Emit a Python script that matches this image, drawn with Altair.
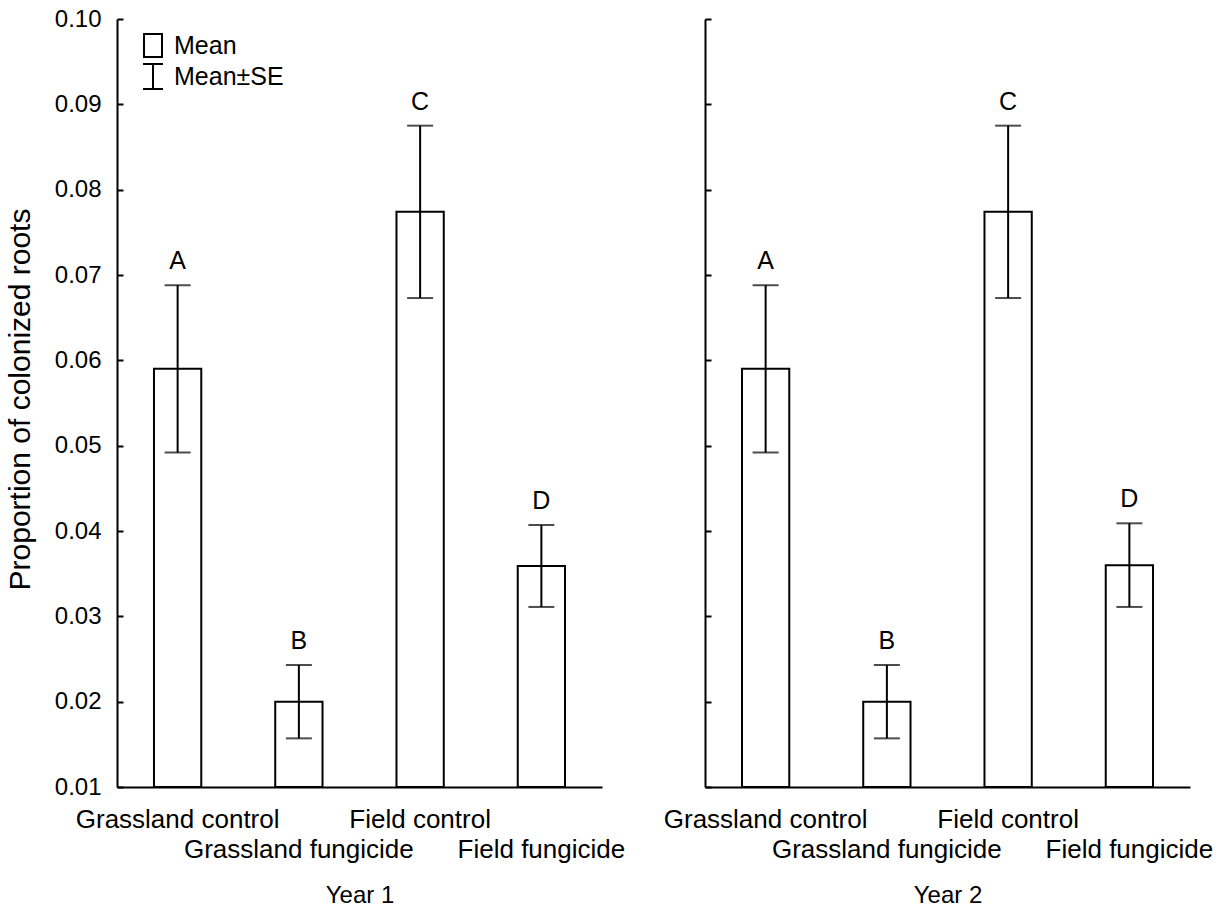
import altair as alt
import pandas as pd

FONT = "Liberation Sans"

categories = ["Grassland control", "Grassland fungicide", "Field control", "Field fungicide"]
second_row = ["Grassland fungicide", "Field fungicide"]
letters = ["A", "B", "C", "D"]

year1_mean = [0.0590, 0.0200, 0.0774, 0.0359]
year1_upper = [0.0688, 0.0243, 0.0875, 0.0407]
year1_lower = [0.0492, 0.0157, 0.0673, 0.0311]

year2_mean = [0.0590, 0.0200, 0.0774, 0.0360]
year2_upper = [0.0688, 0.0243, 0.0875, 0.0409]
year2_lower = [0.0492, 0.0157, 0.0673, 0.0311]

y_ticks = [0.01, 0.02, 0.03, 0.04, 0.05, 0.06, 0.07, 0.08, 0.09, 0.10]
y_min, y_max = 0.01, 0.10

legend_labels = ["Mean", "Mean\u00b1SE"]

W, H = 485, 768

label_expr = (
    "indexof(" + str(second_row).replace('"', "'") + ", datum.value) >= 0 ? ['', datum.label] : datum.label"
)


def panel(means, uppers, lowers, title, show_y, show_legend):
    df = pd.DataFrame({
        "cat": categories,
        "mean": means,
        "upper": uppers,
        "lower": lowers,
        "letter": letters,
        "base": [y_min] * len(categories),
    })
    x = alt.X(
        "cat:N",
        sort=categories,
        scale=alt.Scale(domain=categories, paddingInner=0.61, paddingOuter=0.305),
        axis=alt.Axis(
            title=title,
            labelAngle=0,
            labelFontSize=26,
            labelBaseline="top",
            labelLineHeight=30,
            labelExpr=label_expr,
            labelOverlap=False,
            labelBound=False,
            labelFlush=False,
            labelLimit=500,
            labelPadding=25,
            tickSize=alt.ExprRef(expr="-6"),
            titleFontSize=24,
            titleFontWeight="normal",
            titleY=96,
        ),
    )
    yscale = alt.Scale(domain=[y_min, y_max], zero=False, nice=False)
    if show_y:
        yaxis = alt.Axis(
            title="Proportion of colonized roots",
            values=y_ticks,
            format=".2f",
            labelFontSize=24,
            labelPadding=22,
            tickSize=alt.ExprRef(expr="-6"),
            titleFontSize=30,
            titleFontWeight="normal",
            titleX=-82,
            titleY=380,
            titleBaseline="bottom",
            titleLimit=800,
        )
    else:
        yaxis = alt.Axis(
            title="",
            values=y_ticks,
            labels=False,
            tickSize=alt.ExprRef(expr="-6"),
        )

    def Y(field):
        return alt.Y(field, scale=yscale, axis=yaxis)

    base = alt.Chart(df)
    bars = base.mark_bar(fill="white", stroke="black", strokeWidth=2).encode(
        x=x, y=Y("mean:Q"), y2="base:Q"
    )
    rule = base.mark_rule(color="black", strokeWidth=2).encode(
        x=x, y=Y("lower:Q"), y2="upper:Q"
    )
    cap_hi = base.mark_tick(color="black", size=26, thickness=2, orient="horizontal").encode(
        x=x, y=Y("upper:Q")
    )
    cap_lo = base.mark_tick(color="black", size=26, thickness=2, orient="horizontal").encode(
        x=x, y=Y("lower:Q")
    )
    txt = base.mark_text(fontSize=25, baseline="alphabetic", dy=-16, font=FONT, color="black").encode(
        x=x, y=Y("upper:Q"), text="letter:N"
    )
    layers = [bars, rule, cap_hi, cap_lo, txt]

    if show_legend:
        one = alt.Data(values=[{"k": 1}])
        lg = alt.Chart(one)
        sq = lg.mark_rect(fill="white", stroke="black", strokeWidth=2).encode(
            x=alt.value(27), x2=alt.value(45), y=alt.value(15), y2=alt.value(38)
        )
        t1 = lg.mark_text(fontSize=25, align="left", baseline="middle", font=FONT, color="black").encode(
            x=alt.value(57), y=alt.value(27), text=alt.value(legend_labels[0])
        )
        ev = lg.mark_rule(color="black", strokeWidth=2).encode(
            x=alt.value(36), y=alt.value(45), y2=alt.value(70)
        )
        ec1 = lg.mark_rule(color="black", strokeWidth=2).encode(
            x=alt.value(26), x2=alt.value(46), y=alt.value(45)
        )
        ec2 = lg.mark_rule(color="black", strokeWidth=2).encode(
            x=alt.value(26), x2=alt.value(46), y=alt.value(70)
        )
        t2 = lg.mark_text(fontSize=25, align="left", baseline="middle", font=FONT, color="black").encode(
            x=alt.value(57), y=alt.value(58), text=alt.value(legend_labels[1])
        )
        layers += [sq, t1, ev, ec1, ec2, t2]

    return alt.layer(*layers).properties(width=W, height=H)


left = panel(year1_mean, year1_upper, year1_lower, "Year 1", True, True)
right = panel(year2_mean, year2_upper, year2_lower, "Year 2", False, False)

chart = (
    alt.hconcat(left, right, spacing=103, bounds="flush")
    .resolve_scale(y="shared")
    .properties(padding={"left": 4, "top": 6, "right": 5, "bottom": 0}, background="white")
    .configure_view(stroke="transparent")
    .configure_axis(
        domainColor="black",
        domainWidth=2,
        tickColor="black",
        tickWidth=2,
        labelColor="black",
        titleColor="black",
        labelFont=FONT,
        titleFont=FONT,
        grid=False,
    )
)

chart.save("out.html", embed_options={"renderer": "svg", "actions": False})
